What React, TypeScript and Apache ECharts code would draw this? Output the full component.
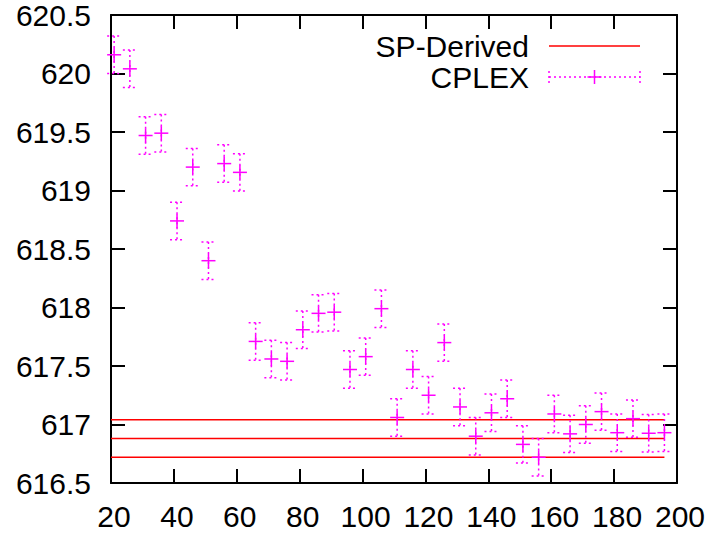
import React, { useEffect, useRef } from "react";
import * as echarts from "echarts";

// ---- data ----
const xValues = [21, 26, 31, 36, 41, 46, 51, 56, 61, 66, 71, 76, 81, 86, 91, 96, 101, 106, 111, 116, 121, 126, 131, 136, 141, 146, 151, 156, 161, 166, 171, 176, 181, 186, 191, 196];
const cplexValues = [620.16, 620.04, 619.47, 619.49, 618.74, 619.2, 618.4, 619.23, 619.155, 617.71, 617.56, 617.54, 617.81, 617.95, 617.96, 617.47, 617.58, 617.99, 617.06, 617.47, 617.25, 617.7, 617.15, 616.9, 617.1, 617.22, 616.83, 616.72, 617.09, 616.92, 617.0, 617.11, 616.93, 617.05, 616.925, 616.93];
const cplexError = 0.16;
const spDerivedLevels = [617.04, 616.88, 616.72];
const spDerivedXRange = [20, 196];
const xTicks = { min: 20, max: 200, step: 20 };
const yTicks = { min: 616.5, max: 620.5, step: 0.5 };
const legendLabels = ["SP-Derived", "CPLEX"];

const FONT = "Liberation Sans, Arial, Helvetica, sans-serif";
const MAGENTA = "#ff00ff";
const RED = "#ff0000";

export default function App() {
  const ref = useRef<HTMLDivElement>(null);
  useEffect(() => {
    if (!ref.current) return;
    const chart = echarts.init(ref.current, null, { renderer: "svg" });

    const axisCommon = {
      axisLine: { show: true, lineStyle: { color: "#000", width: 2 } },
      axisTick: { show: true, inside: true, length: 14, lineStyle: { color: "#000", width: 2 } },
      splitLine: { show: false },
    };

    const errData = xValues.map((x, i) => [x, cplexValues[i], cplexError]);

    const spSeries = spDerivedLevels.map((v) => ({
      type: "line",
      name: "SP-Derived",
      data: [
        [spDerivedXRange[0], v],
        [spDerivedXRange[1], v],
      ],
      symbol: "none",
      lineStyle: { color: RED, width: 1.5 },
      silent: true,
      z: 2,
    }));

    const dotted = { stroke: MAGENTA, lineWidth: 1.5, lineDash: [2, 3], fill: null };
    const solid = { stroke: MAGENTA, lineWidth: 1.5, fill: null };
    const hw = 7;

    const legendY1 = 46;
    const legendY2 = 77;
    const lx1 = 549;
    const lx2 = 640;
    const lmid = (lx1 + lx2) / 2;

    chart.setOption({
      animation: false,
      backgroundColor: "#fff",
      grid: { left: 111, top: 15, width: 566, height: 468, containLabel: false },
      xAxis: [
        {
          type: "value",
          position: "bottom",
          min: xTicks.min,
          max: xTicks.max,
          interval: xTicks.step,
          ...axisCommon,
          axisLabel: { color: "#000", fontSize: 30, fontFamily: FONT, margin: 18, padding: [0, 0, 0, 6] },
        },
        {
          type: "value",
          position: "top",
          min: xTicks.min,
          max: xTicks.max,
          interval: xTicks.step,
          ...axisCommon,
          axisLabel: { show: false },
        },
      ],
      yAxis: [
        {
          type: "value",
          position: "left",
          min: yTicks.min,
          max: yTicks.max,
          interval: yTicks.step,
          ...axisCommon,
          axisLabel: { color: "#000", fontSize: 30, fontFamily: FONT, margin: 20 },
        },
        {
          type: "value",
          position: "right",
          min: yTicks.min,
          max: yTicks.max,
          interval: yTicks.step,
          ...axisCommon,
          axisLabel: { show: false },
        },
      ],
      series: [
        ...spSeries,
        {
          type: "custom",
          name: "CPLEX",
          data: errData,
          z: 3,
          renderItem: (params: any, api: any) => {
            const x = api.value(0);
            const y = api.value(1);
            const e = api.value(2);
            const c = api.coord([x, y]);
            const t = api.coord([x, y + e]);
            const b = api.coord([x, y - e]);
            return {
              type: "group",
              children: [
                { type: "line", shape: { x1: c[0], y1: t[1], x2: c[0], y2: b[1] }, style: dotted },
                { type: "line", shape: { x1: c[0] - hw, y1: t[1], x2: c[0] + hw, y2: t[1] }, style: dotted },
                { type: "line", shape: { x1: c[0] - hw, y1: b[1], x2: c[0] + hw, y2: b[1] }, style: dotted },
                { type: "line", shape: { x1: c[0] - hw, y1: c[1], x2: c[0] + hw, y2: c[1] }, style: solid },
                { type: "line", shape: { x1: c[0], y1: c[1] - hw, x2: c[0], y2: c[1] + hw }, style: solid },
              ],
            };
          },
        },
      ],
      graphic: [
        {
          type: "text",
          x: 529,
          y: legendY1,
          style: { text: legendLabels[0], fill: "#000", font: `30px ${FONT}`, textAlign: "right", textVerticalAlign: "middle" },
        },
        { type: "line", shape: { x1: lx1, y1: legendY1, x2: lx2, y2: legendY1 }, style: { stroke: RED, lineWidth: 1.5 } },
        {
          type: "text",
          x: 529,
          y: legendY2,
          style: { text: legendLabels[1], fill: "#000", font: `30px ${FONT}`, textAlign: "right", textVerticalAlign: "middle" },
        },
        { type: "line", shape: { x1: lx1, y1: legendY2, x2: lx2, y2: legendY2 }, style: dotted },
        { type: "line", shape: { x1: lx1, y1: legendY2 - 6, x2: lx1, y2: legendY2 + 6 }, style: dotted },
        { type: "line", shape: { x1: lx2, y1: legendY2 - 6, x2: lx2, y2: legendY2 + 6 }, style: dotted },
        { type: "line", shape: { x1: lmid - hw, y1: legendY2, x2: lmid + hw, y2: legendY2 }, style: solid },
        { type: "line", shape: { x1: lmid, y1: legendY2 - hw, x2: lmid, y2: legendY2 + hw }, style: solid },
      ],
    });
    return () => chart.dispose();
  }, []);
  return (
    <div
      ref={ref}
      style={{ position: "absolute", left: 0, top: 0, width: 709, height: 536, background: "#fff" }}
    />
  );
}
